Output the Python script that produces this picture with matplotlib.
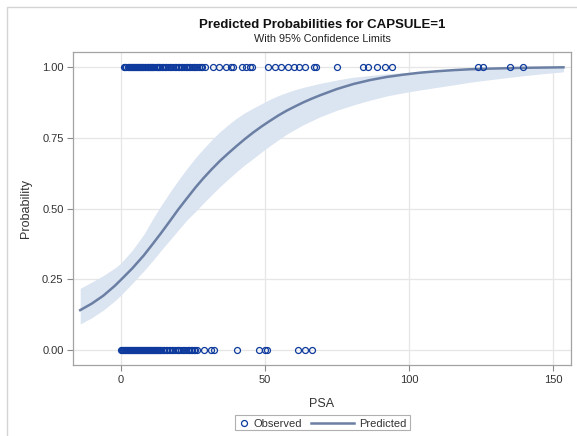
import matplotlib
matplotlib.use("Agg")
import matplotlib.pyplot as plt
from matplotlib.patches import Rectangle
from matplotlib.lines import Line2D

plt.rcParams["font.family"] = ["Liberation Sans", "DejaVu Sans"]

# Observed PSA values for CAPSULE=1
psa_capsule1 = [
    1.3, 1.6, 2.0, 2.4, 2.8, 3.1, 3.5, 3.9, 4.2, 4.6, 5.0, 5.3, 5.7, 6.1, 6.4,
    6.8, 7.2, 7.5, 7.9, 8.3, 8.6, 9.0, 9.4, 9.8, 10.1, 10.5, 10.9, 11.3, 11.7,
    12.1, 12.5, 12.9, 13.3, 13.8, 14.3, 14.8, 15.4, 15.9, 16.5, 17.0, 17.6,
    18.1, 18.7, 19.2, 19.8, 20.3, 20.9, 21.4, 22.0, 22.6, 23.1, 23.7, 24.2,
    24.8, 25.4, 25.9, 26.5, 27.1, 27.7, 28.3, 29.4, 32.0, 34.1, 36.4,
    38.4, 38.9, 41.9, 43.6, 45.0, 45.4, 51.2, 53.5, 55.6, 58.0, 60.0, 62.0,
    63.8, 67.0, 67.6, 74.9, 84.1, 85.8, 88.8, 91.5, 94.0, 123.9, 125.6,
    134.8, 139.5,
]

# Observed PSA values for CAPSULE=0
psa_capsule0 = [
    0.1, 0.4, 0.8, 1.1, 1.5, 1.8, 2.2, 2.5, 2.9, 3.2, 3.6, 3.9, 4.3, 4.6, 5.0,
    5.3, 5.7, 6.0, 6.4, 6.7, 7.1, 7.4, 7.8, 8.1, 8.5, 8.8, 9.2, 9.5, 9.9,
    10.2, 10.6, 10.9, 11.3, 11.6, 12.0, 12.3, 12.7, 13.0, 13.4, 13.7, 14.1,
    14.6, 15.1, 15.6, 16.2, 16.7, 17.2, 17.8, 18.3, 18.8, 19.4, 19.9, 20.4,
    21.0, 21.5, 22.1, 22.6, 23.2, 23.7, 24.3, 24.8, 25.4, 25.9, 26.5,
    28.9, 31.5, 32.3, 40.2, 48.1, 50.0, 50.6, 61.5, 63.9, 66.4,
]

# Predicted probability curve with 95% confidence limits
curve_psa = [-14.0, -10.0, -6.0, -2.0, 0.0, 4.0, 8.0, 11.3, 14.0, 17.1, 20.0,
             22.9, 26.0, 28.6, 31.5, 34.4, 37.3, 40.2, 43.0, 46.0, 49.0, 51.8,
             54.7, 57.6, 60.5, 63.3, 66.2, 69.1, 74.9, 80.7, 86.5, 92.3, 98.0,
             103.8, 109.6, 115.4, 121.0, 127.0, 132.8, 138.5, 146.0, 153.5]
pred_prob = [0.141, 0.164, 0.192, 0.227, 0.247, 0.288, 0.334, 0.377, 0.413,
             0.456, 0.497, 0.535, 0.575, 0.606, 0.638, 0.668, 0.695, 0.721,
             0.745, 0.769, 0.791, 0.810, 0.829, 0.846, 0.861, 0.875, 0.888,
             0.900, 0.922, 0.940, 0.954, 0.965, 0.973, 0.980, 0.985, 0.989,
             0.992, 0.994, 0.9955, 0.997, 0.998, 0.999]
lower_cl = [0.092, 0.114, 0.141, 0.174, 0.193, 0.235, 0.279, 0.318, 0.352,
            0.389, 0.424, 0.459, 0.490, 0.518, 0.548, 0.577, 0.604, 0.630,
            0.654, 0.677, 0.701, 0.722, 0.743, 0.763, 0.780, 0.796, 0.810,
            0.824, 0.847, 0.866, 0.883, 0.898, 0.909, 0.919, 0.928, 0.937,
            0.946, 0.954, 0.961, 0.968, 0.976, 0.983]
upper_cl = [0.218, 0.240, 0.263, 0.290, 0.306, 0.352, 0.408, 0.466, 0.510,
            0.558, 0.600, 0.640, 0.680, 0.710, 0.742, 0.771, 0.796, 0.819,
            0.838, 0.855, 0.871, 0.886, 0.899, 0.910, 0.920, 0.928, 0.935,
            0.942, 0.954, 0.964, 0.970, 0.976, 0.980, 0.984, 0.987, 0.990,
            0.992, 0.994, 0.995, 0.996, 0.997, 0.998]

x_ticks = [0, 50, 100, 150]
y_ticks = [0.0, 0.25, 0.50, 0.75, 1.00]
legend_labels = ["Observed", "Predicted"]

W, H = 577, 436
fig = plt.figure(figsize=(W / 100, H / 100), dpi=100)


def fx(px):
    return px / W


def fy(py):
    return 1 - py / H


# outer light frame of the graph area
fig.patches.append(Rectangle((fx(6.5), -0.5), 2.0, 1.5 - 6.7 / H,
                             transform=fig.transFigure, fill=False,
                             edgecolor="#d4d4d4", linewidth=1.0))

ax = fig.add_axes([fx(73.3), fy(365.3), (570.7 - 73.3) / W, (365.3 - 52.3) / H])

band_color = "#dbe4f1"
fit_color = "#6a7fa3"
obs_color = "#0d3a9c"
marker_kw = dict(linestyle="none", marker="o", markersize=4.3,
                 markerfacecolor="none", markeredgecolor=obs_color,
                 markeredgewidth=0.9)

ax.fill_between(curve_psa, lower_cl, upper_cl, color=band_color, linewidth=0, zorder=1)
ax.plot(curve_psa, pred_prob, color=fit_color, linewidth=1.8, zorder=3,
        solid_joinstyle="round")
ax.plot(psa_capsule1, [1.0] * len(psa_capsule1), zorder=4, **marker_kw)
ax.plot(psa_capsule0, [0.0] * len(psa_capsule0), zorder=4, **marker_kw)

ax.set_xlim(-16.4, 156.0)
ax.set_ylim(-0.054, 1.052)
ax.set_xticks(x_ticks)
ax.set_yticks(y_ticks)
ax.set_yticklabels([f"{v:.2f}" for v in y_ticks])
ax.grid(True, color="#e6e6e6", linewidth=0.9, zorder=0)
ax.set_axisbelow(True)
for s in ax.spines.values():
    s.set_color("#a3a3a3")
    s.set_linewidth(0.9)
ax.tick_params(axis="both", colors="#8a8a8a", labelcolor="#333333",
               labelsize=8, length=4, width=0.8, pad=3)

ax.set_xlabel("PSA", fontsize=9, color="#333333", labelpad=9)
ax.set_ylabel("Probability", fontsize=9, color="#333333", labelpad=7)

fig.text(fx(322), fy(25), "Predicted Probabilities for CAPSULE=1",
         ha="center", va="center", fontsize=9.5, fontweight="bold", color="#111111")
fig.text(fx(322), fy(39.5), "With 95% Confidence Limits",
         ha="center", va="center", fontsize=7.8, color="#222222")

# legend drawn in figure pixels
fig.patches.append(Rectangle((fx(235), fy(430)), (410 - 235) / W, 15 / H,
                             transform=fig.transFigure, fill=True,
                             facecolor="white", edgecolor="#b0b0b0", linewidth=0.8))
fig.add_artist(Line2D([fx(243.5)], [fy(422.5)], transform=fig.transFigure,
                      **marker_kw))
fig.text(fx(253.5), fy(422.5), legend_labels[0], ha="left", va="center_baseline",
         fontsize=8, color="#333333")
fig.add_artist(Line2D([fx(310.6), fx(353.7)], [fy(422.5), fy(422.5)],
                      transform=fig.transFigure, color=fit_color, linewidth=1.8))
fig.text(fx(359), fy(422.5), legend_labels[1], ha="left", va="center_baseline",
         fontsize=8, color="#333333")

fig.savefig("out.png", dpi=100)
